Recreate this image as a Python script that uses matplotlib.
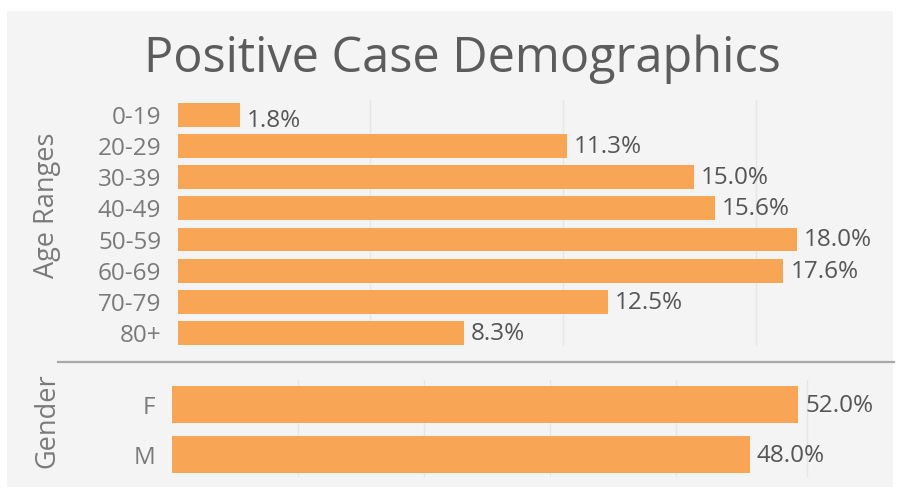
import matplotlib
matplotlib.use("Agg")
import matplotlib.pyplot as plt
from matplotlib.patches import Rectangle
from matplotlib.lines import Line2D

plt.rcParams["font.family"] = ["Open Sans", "DejaVu Sans"]

# date
age_labels = ["0-19", "20-29", "30-39", "40-49", "50-59", "60-69", "70-79", "80+"]
age_pct = [1.8, 11.3, 15.0, 15.6, 18.0, 17.6, 12.5, 8.3]
gender_labels = ["F", "M"]
gender_pct = [52.0, 48.0]
# liniile de grila (in %)
age_grid = [5.58, 11.2, 16.8]
gender_grid = [10.47, 20.95, 31.4, 41.9, 52.7]

W, H = 901, 488
BAR = "#f8a655"
GRID = "#e6e6e6"
TXT = "#555555"
TICK = "#7a7a7a"
FS = 17.5

fig = plt.figure(figsize=(W / 100, H / 100), dpi=100)
fig.patch.set_facecolor("white")


def px_axes(x0, y0, x1, y1):
    # pozitie in pixeli (de sus) -> coordonate figura
    return fig.add_axes([x0 / W, 1 - y1 / H, (x1 - x0) / W, (y1 - y0) / H])


# panoul gri de fundal
fig.patches.append(Rectangle((7 / W, 1 - 487 / H), (893 - 7) / W, (487 - 11) / H,
                             transform=fig.transFigure, facecolor="#f4f4f4",
                             edgecolor="none", zorder=-5))

fig.text(462 / W, 1 - 59 / H, "Positive Case Demographics", ha="center", va="center",
         fontsize=35, color="#5c5c5c", fontweight="medium")


def panel(ax, labels, vals, grid, px_per_pct, width_px, height, ylo, yhi):
    ax.set_facecolor("none")
    ys = list(range(len(labels)))
    ax.barh(ys, vals, height=height, color=BAR, zorder=2)
    ax.set_xlim(0, width_px / px_per_pct)
    ax.set_ylim(yhi, ylo)
    for g in grid:
        ax.axvline(g, color=GRID, lw=1, zorder=1)
    for y, v in zip(ys, vals):
        # eticheta coboara putin cand bara e foarte scurta
        dy = 0.2 if v * px_per_pct < 80 else 0.03
        ax.text(v + 7 / px_per_pct, y + dy, f"{v:.1f}%", va="center", ha="left",
                fontsize=FS, color=TXT)
    ax.set_yticks(ys)
    ax.set_yticklabels(labels, fontsize=FS, color=TICK)
    ax.set_xticks([])
    ax.tick_params(axis="y", length=0, pad=12)
    for s in ax.spines.values():
        s.set_visible(False)


ax1 = px_axes(178, 100, 893, 346)
panel(ax1, age_labels, age_pct, age_grid, 34.4, 715, 0.77, -0.48, 7.42)

ax2 = px_axes(172, 380, 893, 477)
panel(ax2, gender_labels, gender_pct, gender_grid, 12.04, 721, 0.74, -0.49, 1.45)

fig.text(47 / W, 1 - 205 / H, "Age Ranges", rotation=90, ha="center", va="center",
         fontsize=19.5, color=TICK)
fig.text(47 / W, 1 - 421 / H, "Gender", rotation=90, ha="center", va="center",
         fontsize=19.5, color=TICK)

# separatorul dintre panouri
fig.lines.append(Line2D([58 / W, 894 / W], [1 - 362 / H, 1 - 362 / H],
                        transform=fig.transFigure, color="#a8a8a8", lw=1.6))

fig.savefig("out.png", dpi=100)
